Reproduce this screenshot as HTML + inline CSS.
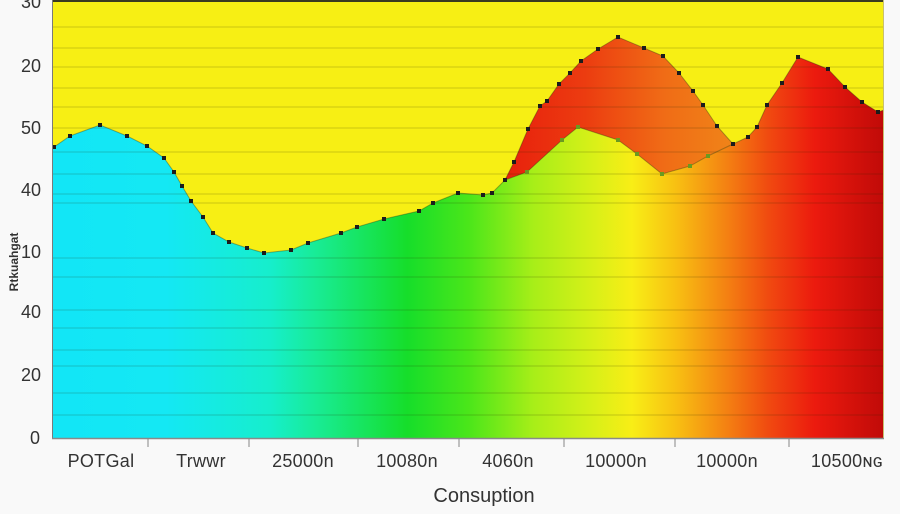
<!DOCTYPE html>
<html>
<head>
<meta charset="utf-8">
<style>
  html,body{margin:0;padding:0;background:#f9f9f9;}
  svg{display:block;}
  text{font-family:"Liberation Sans",sans-serif;fill:#333;}
</style>
</head>
<body>
<svg width="900" height="514" viewBox="0 0 900 514" xmlns="http://www.w3.org/2000/svg">
  <defs>
    <linearGradient id="main" gradientUnits="userSpaceOnUse" x1="52" y1="0" x2="884" y2="0">
      <stop offset="0" stop-color="#12e6f6"/>
      <stop offset="0.137" stop-color="#14e8f4"/>
      <stop offset="0.262" stop-color="#16eecc"/>
      <stop offset="0.315" stop-color="#18ec98"/>
      <stop offset="0.427" stop-color="#16de2a"/>
      <stop offset="0.5" stop-color="#4ae61a"/>
      <stop offset="0.579" stop-color="#a8ee18"/>
      <stop offset="0.644" stop-color="#d4f018"/>
      <stop offset="0.697" stop-color="#f8ee16"/>
      <stop offset="0.75" stop-color="#f8c012"/>
      <stop offset="0.81" stop-color="#f48212"/>
      <stop offset="0.863" stop-color="#f04810"/>
      <stop offset="0.917" stop-color="#ec1a0e"/>
      <stop offset="1" stop-color="#c00a08"/>
    </linearGradient>
    <linearGradient id="red" gradientUnits="userSpaceOnUse" x1="505" y1="0" x2="733" y2="0">
      <stop offset="0" stop-color="#e8200c"/>
      <stop offset="0.35" stop-color="#ec3c10"/>
      <stop offset="0.7" stop-color="#f06c16"/>
      <stop offset="1" stop-color="#f08418"/>
    </linearGradient>
  </defs>

  <rect x="0" y="0" width="900" height="514" fill="#f9f9f9"/>
  <rect x="52" y="0" width="832" height="438" fill="#f7ef14"/>

  <polygon fill="url(#main)" points="52,438 52,147 54,147 70,136 100,125 127,136 147,146 164,158 174,172 182,186 191,201 203,217 213,233 229,242 247,248 264,253 291,250 308,243 341,233 357,227 384,219 419,211 433,203 458,193 483,195 492,193 505,180 527,172 562,140 578,127 618,140 637,154 662,174 690,166 708,156 733,144 748,137 757,127 767,105 782,83 798,57 828,69 845,87 862,102 878,112 884,110 884,438"/>

  <polygon fill="url(#red)" points="505,180 514,162 528,129 540,106 547,101 559,84 570,73 581,61 598,49 618,37 644,48 663,56 679,73 693,91 703,105 717,126 733,144 708,156 690,166 662,174 637,154 618,140 578,127 562,140 527,172"/>

  <g stroke="rgba(40,40,0,0.17)" stroke-width="1.2">
    <line x1="52" x2="884" y1="27" y2="27"/>
    <line x1="52" x2="884" y1="48" y2="48"/>
    <line x1="52" x2="884" y1="67" y2="67"/>
    <line x1="52" x2="884" y1="88" y2="88"/>
    <line x1="52" x2="884" y1="107" y2="107"/>
    <line x1="52" x2="884" y1="128" y2="128"/>
    <line x1="52" x2="884" y1="152" y2="152"/>
    <line x1="52" x2="884" y1="174" y2="174"/>
    <line x1="52" x2="884" y1="194" y2="194"/>
    <line x1="52" x2="884" y1="203" y2="203"/>
    <line x1="52" x2="884" y1="258" y2="258"/>
    <line x1="52" x2="884" y1="277" y2="277"/>
    <line x1="52" x2="884" y1="310" y2="310"/>
    <line x1="52" x2="884" y1="328" y2="328"/>
    <line x1="52" x2="884" y1="350" y2="350"/>
    <line x1="52" x2="884" y1="366" y2="366"/>
    <line x1="52" x2="884" y1="393" y2="393"/>
    <line x1="52" x2="884" y1="415" y2="415"/>
  </g>

  <g fill="none" stroke="rgba(30,40,20,0.35)" stroke-width="1">
    <polyline points="52,147 54,147 70,136 100,125 127,136 147,146 164,158 174,172 182,186 191,201 203,217 213,233 229,242 247,248 264,253 291,250 308,243 341,233 357,227 384,219 419,211 433,203 458,193 483,195 492,193 505,180 527,172 562,140 578,127 618,140 637,154 662,174 690,166 708,156 733,144 748,137 757,127 767,105 782,83 798,57 828,69 845,87 862,102 878,112 884,110"/>
    <polyline points="505,180 514,162 528,129 540,106 547,101 559,84 570,73 581,61 598,49 618,37 644,48 663,56 679,73 693,91 703,105 717,126 733,144"/>
  </g>

  <g fill="#1c1c1c">
    <rect x="52" y="145" width="4" height="4"/>
    <rect x="68" y="134" width="4" height="4"/>
    <rect x="98" y="123" width="4" height="4"/>
    <rect x="125" y="134" width="4" height="4"/>
    <rect x="145" y="144" width="4" height="4"/>
    <rect x="162" y="156" width="4" height="4"/>
    <rect x="172" y="170" width="4" height="4"/>
    <rect x="180" y="184" width="4" height="4"/>
    <rect x="189" y="199" width="4" height="4"/>
    <rect x="201" y="215" width="4" height="4"/>
    <rect x="211" y="231" width="4" height="4"/>
    <rect x="227" y="240" width="4" height="4"/>
    <rect x="245" y="246" width="4" height="4"/>
    <rect x="262" y="251" width="4" height="4"/>
    <rect x="289" y="248" width="4" height="4"/>
    <rect x="306" y="241" width="4" height="4"/>
    <rect x="339" y="231" width="4" height="4"/>
    <rect x="355" y="225" width="4" height="4"/>
    <rect x="382" y="217" width="4" height="4"/>
    <rect x="417" y="209" width="4" height="4"/>
    <rect x="431" y="201" width="4" height="4"/>
    <rect x="456" y="191" width="4" height="4"/>
    <rect x="481" y="193" width="4" height="4"/>
    <rect x="490" y="191" width="4" height="4"/>
    <rect x="503" y="178" width="4" height="4"/>
    <rect x="512" y="160" width="4" height="4"/>
    <rect x="526" y="127" width="4" height="4"/>
    <rect x="538" y="104" width="4" height="4"/>
    <rect x="545" y="99" width="4" height="4"/>
    <rect x="557" y="82" width="4" height="4"/>
    <rect x="568" y="71" width="4" height="4"/>
    <rect x="579" y="59" width="4" height="4"/>
    <rect x="596" y="47" width="4" height="4"/>
    <rect x="616" y="35" width="4" height="4"/>
    <rect x="642" y="46" width="4" height="4"/>
    <rect x="661" y="54" width="4" height="4"/>
    <rect x="677" y="71" width="4" height="4"/>
    <rect x="691" y="89" width="4" height="4"/>
    <rect x="701" y="103" width="4" height="4"/>
    <rect x="715" y="124" width="4" height="4"/>
    <rect x="731" y="142" width="4" height="4"/>
    <rect x="746" y="135" width="4" height="4"/>
    <rect x="755" y="125" width="4" height="4"/>
    <rect x="765" y="103" width="4" height="4"/>
    <rect x="780" y="81" width="4" height="4"/>
    <rect x="796" y="55" width="4" height="4"/>
    <rect x="826" y="67" width="4" height="4"/>
    <rect x="843" y="85" width="4" height="4"/>
    <rect x="860" y="100" width="4" height="4"/>
    <rect x="876" y="110" width="4" height="4"/>
  </g>
  <g fill="#6a9a20">
    <rect x="525" y="170" width="4" height="4"/>
    <rect x="560" y="138" width="4" height="4"/>
    <rect x="576" y="125" width="4" height="4"/>
    <rect x="616" y="138" width="4" height="4"/>
    <rect x="635" y="152" width="4" height="4"/>
    <rect x="660" y="172" width="4" height="4"/>
    <rect x="688" y="164" width="4" height="4"/>
    <rect x="706" y="154" width="4" height="4"/>
  </g>

  <line x1="52" x2="884" y1="1" y2="1" stroke="#3a3a20" stroke-width="2"/>
  <line x1="883.5" x2="883.5" y1="0" y2="438" stroke="#c8c070" stroke-width="1"/>
  <line x1="52.5" x2="52.5" y1="0" y2="439" stroke="#7a7a7a" stroke-width="1"/>
  <line x1="52" x2="884" y1="438.5" y2="438.5" stroke="#8a8a8a" stroke-width="1.5"/>
  <g stroke="#888" stroke-width="1">
    <line x1="148" x2="148" y1="438" y2="447"/>
    <line x1="249" x2="249" y1="438" y2="447"/>
    <line x1="358" x2="358" y1="438" y2="447"/>
    <line x1="459" x2="459" y1="438" y2="447"/>
    <line x1="564" x2="564" y1="438" y2="447"/>
    <line x1="675" x2="675" y1="438" y2="447"/>
    <line x1="789" x2="789" y1="438" y2="447"/>
  </g>

  <g font-size="18" text-anchor="end">
    <text x="41" y="8">30</text>
    <text x="41" y="72">20</text>
    <text x="41" y="134">50</text>
    <text x="41" y="196">40</text>
    <text x="41" y="258">10</text>
    <text x="41" y="318">40</text>
    <text x="41" y="381">20</text>
    <text x="40" y="444">0</text>
  </g>

  <text x="0" y="0" font-size="12" font-weight="bold" fill="#444" text-anchor="middle" transform="translate(18,262) rotate(-90)">Rtkuahgat</text>

  <g font-size="18" text-anchor="middle" letter-spacing="0.3">
    <text x="101" y="467">POTGal</text>
    <text x="201" y="467">Trwwr</text>
    <text x="303" y="467">25000n</text>
    <text x="407" y="467">10080n</text>
    <text x="508" y="467">4060n</text>
    <text x="616" y="467">10000n</text>
    <text x="727" y="467">10000n</text>
    <text x="847" y="467">10500ɴɢ</text>
  </g>

  <text x="484" y="502" font-size="20" text-anchor="middle">Consuption</text>
</svg>
</body>
</html>
